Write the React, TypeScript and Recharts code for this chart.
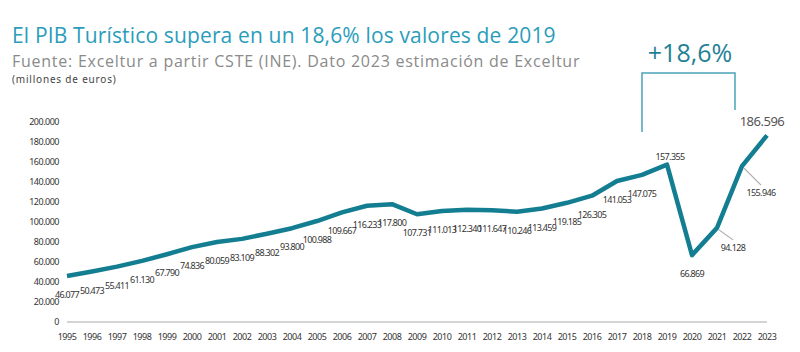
import React from 'react'
import { LineChart, Line, XAxis, YAxis, LabelList } from 'recharts'

const years = [
  '1995', '1996', '1997', '1998', '1999', '2000', '2001', '2002', '2003', '2004',
  '2005', '2006', '2007', '2008', '2009', '2010', '2011', '2012', '2013', '2014',
  '2015', '2016', '2017', '2018', '2019', '2020', '2021', '2022', '2023',
]

// PIB turístico, millones de euros
const pibValues = [
  46077, 50473, 55411, 61130, 67790, 74836, 80059, 83109, 88302, 93800,
  100988, 109667, 116233, 117800, 107731, 111013, 112340, 111647, 110246, 113459,
  119185, 126305, 141053, 147075, 157355, 66869, 94128, 155946, 186596,
]

const yTicks = [0, 20000, 40000, 60000, 80000, 100000, 120000, 140000, 160000, 180000, 200000]

const data = years.map((year, i) => ({ year, pib: pibValues[i] }))

const TEAL = '#137e92'
const LABEL_FONT = '"Noto Sans", sans-serif'

const fmt = (n: number) => String(n).replace(/\B(?=(\d{3})+(?!\d))/g, '.')

const PointLabel = (props: any) => {
  const { x, y, value, index } = props
  const year = years[index]
  const text = fmt(value)

  if (year === '2023') {
    return (
      <text x={x - 5} y={y - 9} textAnchor="middle" fontSize={13} fill="#555" fontFamily={LABEL_FONT} letterSpacing={-0.5}>
        {text}
      </text>
    )
  }
  if (year === '2019') {
    return (
      <text x={x + 3} y={y - 5} textAnchor="middle" fontSize={9} fill="#333" fontFamily={LABEL_FONT} letterSpacing={-0.6}>
        {text}
      </text>
    )
  }
  if (year === '2021' || year === '2022') {
    const dx = year === '2021' ? 16 : 19
    const dy = year === '2021' ? 20 : 27
    return (
      <g>
        <line x1={x + 2} y1={y + 2} x2={x + dx} y2={y + dy - 8} stroke="#aaa" strokeWidth={1.2} />
        <text x={x + dx} y={y + dy + 3} textAnchor="middle" fontSize={9} fill="#333" fontFamily={LABEL_FONT} letterSpacing={-0.6}>
          {text}
        </text>
      </g>
    )
  }
  return (
    <text x={x} y={y + 22} textAnchor="middle" fontSize={9} fill="#333" fontFamily={LABEL_FONT} letterSpacing={-0.7}>
      {text}
    </text>
  )
}

export default function App() {
  return (
    <div style={{ position: 'absolute', left: 0, top: 0, width: 800, height: 352, background: '#fff', overflow: 'hidden' }}>
      <div style={{ position: 'absolute', left: 12, top: 25, fontFamily: '"Open Sans", sans-serif', fontSize: 21, letterSpacing: 0.15, color: '#2a9dbb', whiteSpace: 'nowrap', lineHeight: 1 }}>
        El PIB Turístico supera en un 18,6% los valores de 2019
      </div>
      <div style={{ position: 'absolute', left: 12, top: 53, fontFamily: '"Open Sans", sans-serif', fontSize: 16, letterSpacing: 0.75, color: '#8a8a8a', whiteSpace: 'nowrap', lineHeight: 1 }}>
        Fuente: Exceltur a partir CSTE (INE). Dato 2023 estimación de Exceltur
      </div>
      <div style={{ position: 'absolute', left: 12, top: 74, fontFamily: LABEL_FONT, fontSize: 10, color: '#444', whiteSpace: 'nowrap', lineHeight: 1, letterSpacing: 0.8 }}>
        (millones de euros)
      </div>

      <div style={{ position: 'absolute', left: 0, top: 0 }}>
        <LineChart width={800} height={352} data={data} margin={{ top: 122, right: 33, bottom: 0, left: 0 }}>
          <XAxis
            dataKey="year"
            axisLine={{ stroke: '#d4d4d4', strokeWidth: 2 }}
            tickLine={false}
            tickMargin={6}
            interval={0}
            height={30}
            tick={{ fontSize: 9, fill: '#333', fontFamily: LABEL_FONT, letterSpacing: -0.5 }}
          />
          <YAxis
            domain={[0, 200000]}
            ticks={yTicks}
            width={67}
            axisLine={false}
            tickLine={false}
            tickFormatter={fmt}
            tick={{ fontSize: 9, fill: '#333', fontFamily: LABEL_FONT, letterSpacing: -0.5 }}
          />
          <Line
            type="linear"
            dataKey="pib"
            stroke={TEAL}
            strokeWidth={4.5}
            dot={false}
            activeDot={false}
            strokeLinejoin="round"
            isAnimationActive={false}
          >
            <LabelList dataKey="pib" content={<PointLabel />} />
          </Line>
        </LineChart>
      </div>

      <svg width={800} height={352} style={{ position: 'absolute', left: 0, top: 0, pointerEvents: 'none' }}>
        <text x={690} y={62} textAnchor="middle" fontSize={25} fill="#1f8196" fontFamily='"Open Sans", sans-serif'>
          +18,6%
        </text>
        <polyline points="642,132 642,73 735,73 735,110" fill="none" stroke="#4aa3b8" strokeWidth={1.5} />
      </svg>
    </div>
  )
}
